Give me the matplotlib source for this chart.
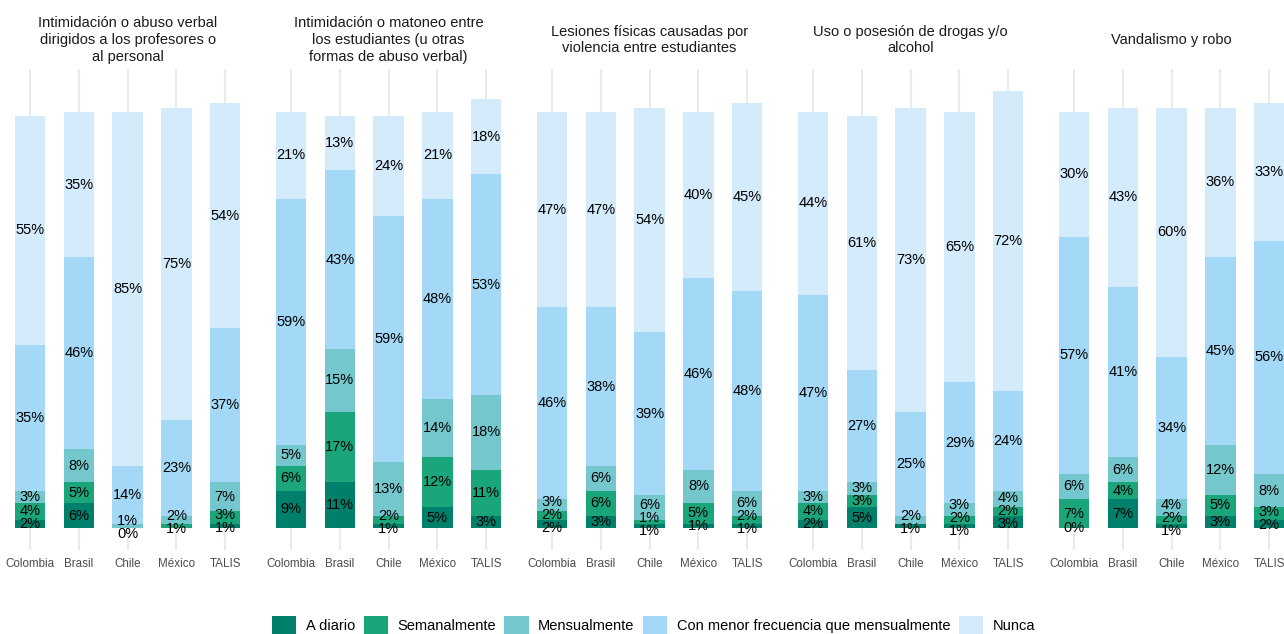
import numpy as np
import matplotlib.pyplot as plt
from matplotlib.patches import Patch

plt.rcParams['font.family'] = ['Liberation Sans', 'DejaVu Sans']

nan = np.nan

paises = ["Colombia", "Brasil", "Chile", "México", "TALIS"]
temas = ["Intimidación o abuso verbal\ndirigidos a los profesores o\nal personal",
         "Intimidación o matoneo entre\nlos estudiantes (u otras\nformas de abuso verbal)",
         "Lesiones físicas causadas por\nviolencia entre estudiantes",
         "Uso o posesión de drogas y/o\nalcohol",
         "Vandalismo y robo"]
categorias = ["A diario", "Semanalmente", "Mensualmente",
              "Con menor frecuencia que mensualmente", "Nunca"]
colores = ["#007F6A", "#1AA57A", "#74C8CD", "#A3D9F6", "#D3EBFA"]

# one row per tema, one column per pais (percent of teachers)
a_diario = np.array([[2, 6, 0, nan, 1],
                     [9, 11, 1, 5, 3],
                     [2, 3, 1, 1, 1],
                     [2, 5, 1, 1, 3],
                     [0, 7, 1, 3, 2]])
semanal = np.array([[4, 5, nan, 1, 3],
                    [6, 17, 2, 12, 11],
                    [2, 6, 1, 5, 2],
                    [4, 3, nan, 2, 2],
                    [7, 4, 2, 5, 3]])
mensual = np.array([[3, 8, 1, 2, 7],
                    [5, 15, 13, 14, 18],
                    [3, 6, 6, 8, 6],
                    [3, 3, 2, 3, 4],
                    [6, 6, 4, 12, 8]])
menor = np.array([[35, 46, 14, 23, 37],
                  [59, 43, 59, 48, 53],
                  [46, 38, 39, 46, 48],
                  [47, 27, 25, 29, 24],
                  [57, 41, 34, 45, 56]])
nunca = np.array([[55, 35, 85, 75, 54],
                  [21, 13, 24, 21, 18],
                  [47, 47, 54, 40, 45],
                  [44, 61, 73, 65, 72],
                  [30, 43, 60, 36, 33]])

series = [a_diario, semanal, mensual, menor, nunca]


# push apart labels that sit too close together within one bar
def separar(ys, gap):
    ys = list(ys)
    for _ in range(200):
        moved = False
        for i in range(len(ys) - 1):
            d = ys[i + 1] - ys[i]
            if d < gap - 1e-9:
                s = (gap - d) / 2
                ys[i] -= s
                ys[i + 1] += s
                moved = True
        if not moved:
            break
    return ys


W, H = 1284, 634
fig = plt.figure(figsize=(W / 100, H / 100), dpi=100)

ymax = np.nansum(np.stack(series), axis=0).max()
ylo, yhi = -0.05 * ymax, 1.05 * ymax
unit = 48.8                      # px per bar slot
panel_w = 5.2 * unit
panel_top, panel_bot = 69, 550
gap = 13 * (yhi - ylo) / (panel_bot - panel_top)

x = np.arange(len(paises))
for t, tema in enumerate(temas):
    left = 30 - 0.6 * unit + 261 * t
    ax = fig.add_axes([left / W, 1 - panel_bot / H, panel_w / W,
                       (panel_bot - panel_top) / H])
    bottom = np.zeros(len(paises))
    centros = [[] for _ in paises]
    for k, vals in enumerate(series):
        v = vals[t]
        h = np.nan_to_num(v)
        ax.bar(x, h, bottom=bottom, width=0.62, color=colores[k], zorder=2)
        for j in range(len(paises)):
            if not np.isnan(v[j]):
                centros[j].append((bottom[j] + h[j] / 2, v[j]))
        bottom += h
    for j in range(len(paises)):
        ys = separar([c[0] for c in centros[j]], gap)
        for yy, (_, val) in zip(ys, centros[j]):
            ax.text(x[j], yy, f"{val:.0f}%", ha='center', va='center',
                    fontsize=10.5, color='black', zorder=3)
    ax.set_xlim(-0.6, 4.6)
    ax.set_ylim(ylo, yhi)
    ax.set_xticks(x, paises)
    ax.tick_params(axis='x', length=0, pad=6, labelsize=8.4, labelcolor='#4D4D4D')
    ax.set_yticks([])
    for s in ax.spines.values():
        s.set_visible(False)
    ax.xaxis.grid(True, color='#EBEBEB', lw=1.5, zorder=0)
    ax.set_axisbelow(True)
    ax.text(0.5, 1 + 29 / (panel_bot - panel_top), tema, transform=ax.transAxes,
            ha='center', va='center', fontsize=10.5, color='#1A1A1A',
            linespacing=1.27, clip_on=False)

handles = [Patch(facecolor=c) for c in colores]
fig.legend(handles, categorias, loc='center', bbox_to_anchor=(653.5 / W, 1 - 625 / H),
           ncol=5, frameon=False, fontsize=10.5, handlelength=1.65, handleheight=1.55,
           handletextpad=0.65, columnspacing=0.6, borderpad=0, borderaxespad=0)

fig.savefig("out.png", dpi=100)
